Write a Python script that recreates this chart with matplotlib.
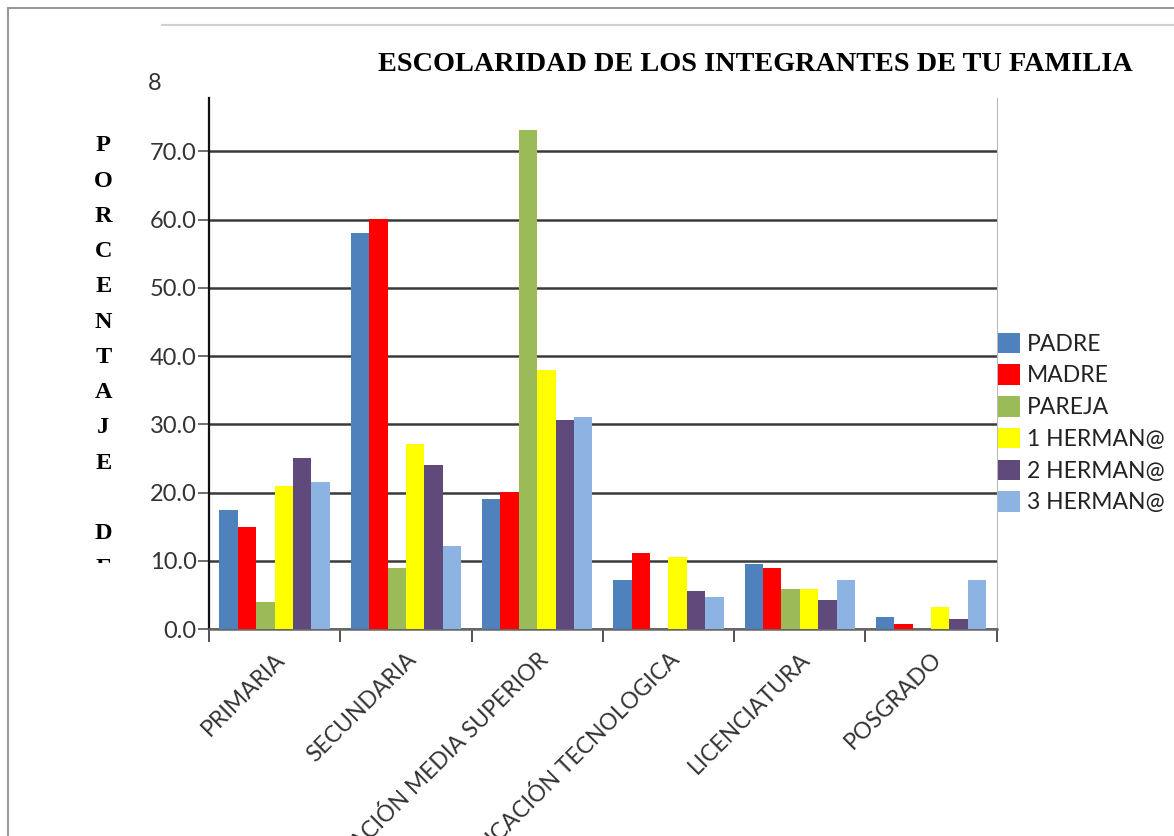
import matplotlib
matplotlib.use("Agg")
import matplotlib.pyplot as plt
import numpy as np
from matplotlib.transforms import Bbox, TransformedBbox
from matplotlib.lines import Line2D

categories = ["PRIMARIA", "SECUNDARIA", "EDUCACIÓN MEDIA SUPERIOR",
              "EDUCACIÓN TECNOLOGICA", "LICENCIATURA", "POSGRADO"]
series_names = ["PADRE", "MADRE", "PAREJA", "1 HERMAN@", "2 HERMAN@", "3 HERMAN@"]
padre = [17.5, 58.0, 19.0, 7.2, 9.5, 1.7]
madre = [14.9, 60.1, 20.1, 11.2, 8.9, 0.8]
pareja = [3.9, 9.0, 73.1, 0.0, 5.8, 0.0]
hermano1 = [21.0, 27.1, 38.0, 10.6, 5.8, 3.2]
hermano2 = [25.0, 24.0, 30.6, 5.6, 4.2, 1.5]
hermano3 = [21.6, 12.1, 31.1, 4.7, 7.2, 7.2]
colors = ["#4F81BD", "#FF0000", "#9BBB59", "#FFFF00", "#604A7B", "#8DB3E2"]
yticks = [0, 10, 20, 30, 40, 50, 60, 70]
title = "ESCOLARIDAD DE LOS INTEGRANTES DE TU FAMILIA"
ylabel = "PORCENTAJE DE"

fig = plt.figure(figsize=(11.74, 8.36), dpi=100)
ax = fig.add_axes([0.178, 0.2476, 0.671, 0.635])

data = [padre, madre, pareja, hermano1, hermano2, hermano3]
n = len(data)
bw = 0.14
x = np.arange(len(categories))
for i, (vals, c, name) in enumerate(zip(data, colors, series_names)):
    ax.bar(x + (i - (n - 1) / 2) * bw, vals, bw, color=c, label=name, zorder=3)

ax.set_xlim(-0.5, len(categories) - 0.5)
ax.set_ylim(0, 77.8)
ax.set_yticks(yticks)
ax.set_yticklabels([f"{v:.1f}" for v in yticks], fontfamily="Lato", fontsize=17, color="#333333")
ax.yaxis.grid(True, color="#3a3a3a", lw=1.8, zorder=0)
ax.set_axisbelow(True)
ax.tick_params(axis="y", length=8, width=1.2, color="#555555", pad=1)

ax.set_xticks(x)
ax.set_xticklabels(categories, rotation=45, ha="right", rotation_mode="anchor",
                   fontfamily="Lato", fontsize=16.5, color="#333333")
ax.tick_params(axis="x", length=0, pad=14)
ax.set_xticks(np.arange(len(categories) + 1) - 0.5, minor=True)
ax.tick_params(axis="x", which="minor", length=9, width=1.2, color="#333333")

ax.spines["top"].set_visible(False)
ax.spines["right"].set_color("#bbbbbb")
ax.spines["left"].set_color("#111111")
ax.spines["left"].set_linewidth(1.6)
ax.spines["bottom"].set_color("#666666")
ax.spines["bottom"].set_linewidth(1.8)

# clipped top tick label artifact ("8" of 80.0)
ax.text(-0.965, 80, "8", fontfamily="Lato", fontsize=17, color="#333333",
        ha="left", va="center", clip_on=False)

fig.text(0.643, 0.923, title, fontfamily="Liberation Serif", fontweight="bold",
         fontsize=20.3, ha="center", va="center")

yl = fig.text(0.088, 0.838, "\n".join(list("PORCENTAJE") + [" "] + list("DE")),
              fontfamily="Liberation Serif", fontweight="bold", fontsize=17.5,
              ha="center", va="top", linespacing=1.89)
yl.set_clip_box(TransformedBbox(Bbox([[0, 1 - 563 / 836], [0.17, 1]]), fig.transFigure))
yl.set_clip_on(True)

leg = ax.legend(loc="center left", bbox_to_anchor=(0.99, 0.388), frameon=False,
                prop={"family": "Lato", "size": 16.5}, handlelength=0.95, handleheight=1.0,
                handletextpad=0.3, labelspacing=0.42, borderaxespad=0)
for t in leg.get_texts():
    t.set_color("#222222")

# outer border and top line
fig.add_artist(Line2D([8 / 1174, 8 / 1174], [0, 1 - 8 / 836], color="#999999", lw=1.5,
                      transform=fig.transFigure))
fig.add_artist(Line2D([8 / 1174, 1], [1 - 8 / 836, 1 - 8 / 836], color="#999999", lw=1.5,
                      transform=fig.transFigure))
fig.add_artist(Line2D([162 / 1174, 1], [1 - 25 / 836, 1 - 25 / 836], color="#d0d0d0", lw=1.5,
                      transform=fig.transFigure))

fig.savefig("out.png", dpi=100)
